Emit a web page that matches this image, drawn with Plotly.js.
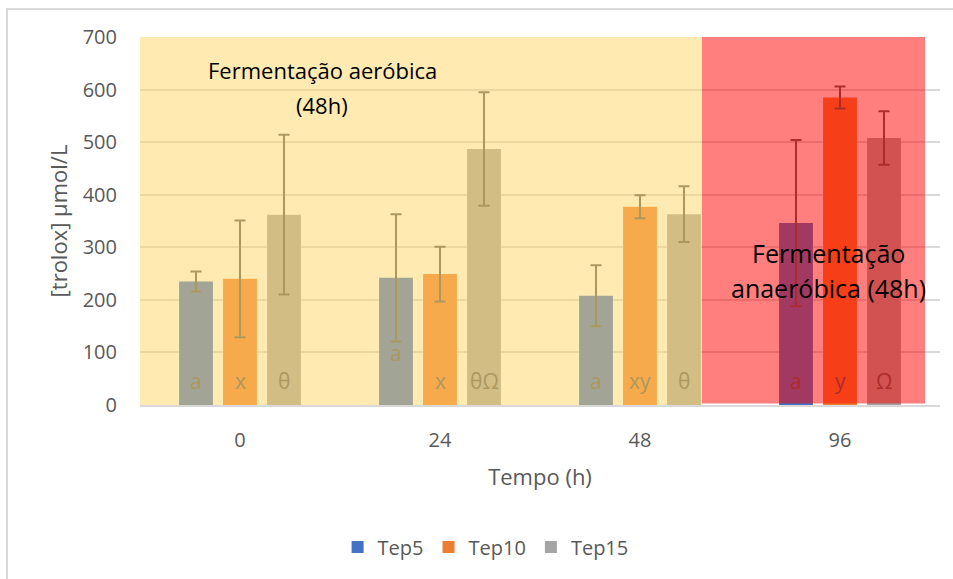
<!DOCTYPE html>
<html>
<head>
<meta charset="utf-8">
<script src="https://cdn.plot.ly/plotly-3.0.1.min.js"></script>
<style>
  html, body { margin: 0; padding: 0; background: #fff; }
  #wrap { position: relative; width: 953px; height: 579px; }
  #chart { width: 953px; height: 579px; }
  #frame { position: absolute; left: 6px; top: 8px; width: 946px; height: 580px;
           border-left: 2px solid #d9d9d9; border-top: 2px solid #d9d9d9; pointer-events: none; }
</style>
</head>
<body>
<div id="wrap">
  <div id="chart"></div>
  <div id="frame"></div>
</div>
<script>
// ---- data ----
const categories = ['0', '24', '48', '96'];
const seriesNames = ['Tep5', 'Tep10', 'Tep15'];
const tep5 = [235, 242, 208, 346];
const tep5Err = [19, 121, 58, 158];
const tep10 = [240, 249, 377, 585];
const tep10Err = [111, 52, 22, 21];
const tep15 = [362, 487, 363, 508];
const tep15Err = [152, 108, 53, 51];
const tep5Labels = ['a', 'a', 'a', 'a'];
const tep10Labels = ['x', 'x', 'xy', 'y'];
const tep15Labels = ['θ', 'θΩ', 'θ', 'Ω'];
const colors = ['#4472C4', '#ED7D31', '#A5A5A5'];

const values = [tep5, tep10, tep15];
const errors = [tep5Err, tep10Err, tep15Err];
const labels = [tep5Labels, tep10Labels, tep15Labels];

const FONT = 'Open Sans, Liberation Sans, sans-serif';
const bargap = 0.34, bargroupgap = 0.23;

const traces = seriesNames.map((name, i) => ({
  type: 'bar',
  name: name,
  x: categories,
  y: values[i],
  marker: { color: colors[i] },
  error_y: { type: 'data', array: errors[i], visible: true, color: '#595959', thickness: 2, width: 5.5 },
  hoverinfo: 'skip'
}));

// letter labels (drawn above the translucent overlays, so use the blended colours)
const annotations = [];
const slot = (1 - bargap) / 3;
seriesNames.forEach((name, i) => {
  labels[i].forEach((txt, c) => {
    const inRed = c === 3;
    const raised = (c === 1 && i === 0);
    annotations.push({
      xref: 'x', yref: 'y', x: c + (i - 1) * slot, y: 0,
      text: txt, showarrow: false,
      yanchor: 'middle', yshift: raised ? 52 : 24,
      font: { family: FONT, size: 21, color: inRed ? '#AC2C2C' : '#AC985F' }
    });
  });
});

const noteFont1 = { family: FONT, size: 22, color: '#000000' };
const noteFont2 = { family: FONT, size: 25, color: '#000000' };
annotations.push(
  { xref: 'paper', yref: 'paper', x: (322 - 140) / 800, y: (405 - 70) / 368, text: 'Fermentação aeróbica', showarrow: false, xanchor: 'center', yanchor: 'middle', font: noteFont1 },
  { xref: 'paper', yref: 'paper', x: (322 - 140) / 800, y: (405 - 105) / 368, text: '(48h)', showarrow: false, xanchor: 'center', yanchor: 'middle', font: noteFont1 },
  { xref: 'paper', yref: 'paper', x: (828 - 140) / 800, y: (405 - 253) / 368, text: 'Fermentação', showarrow: false, xanchor: 'center', yanchor: 'middle', font: noteFont2 },
  { xref: 'paper', yref: 'paper', x: (828 - 140) / 800, y: (405 - 288) / 368, text: 'anaeróbica (48h)', showarrow: false, xanchor: 'center', yanchor: 'middle', font: noteFont2 }
);

const layout = {
  width: 953, height: 579,
  margin: { l: 140, r: 13, t: 37, b: 174 },
  paper_bgcolor: '#ffffff', plot_bgcolor: '#ffffff',
  font: { family: FONT, color: '#595959', size: 20 },
  barmode: 'group', bargap: bargap, bargroupgap: bargroupgap,
  showlegend: true,
  legend: { orientation: 'h', x: 0.432, y: (405 - 547) / 368, xanchor: 'center', yanchor: 'middle',
            font: { family: FONT, size: 20, color: '#595959' }, itemwidth: 30 },
  xaxis: {
    type: 'category', range: [-0.5, 3.5], showgrid: false, zeroline: false,
    showline: true, linecolor: '#d9d9d9', linewidth: 2,
    ticks: '', ticklabelstandoff: 16, tickfont: { family: FONT, size: 20, color: '#595959' },
    title: { text: 'Tempo (h)', standoff: 18, font: { family: FONT, size: 22, color: '#595959' } },
    fixedrange: true
  },
  yaxis: {
    range: [0, 700], dtick: 100, tick0: 0, showgrid: true, gridcolor: '#d9d9d9', gridwidth: 2,
    zeroline: false, showline: false, ticks: '', ticklabelstandoff: 22,
    tickfont: { family: FONT, size: 20, color: '#595959' },
    title: { text: '[trolox] µmol/L', standoff: 8, font: { family: FONT, size: 22, color: '#595959' } },
    fixedrange: true
  },
  shapes: [
    { type: 'rect', layer: 'above', xref: 'x', yref: 'y', x0: -0.52, x1: 2.31, y0: 0, y1: 700,
      fillcolor: 'rgba(255,215,101,0.5)', line: { width: 0 } },
    { type: 'rect', layer: 'above', xref: 'x', yref: 'y', x0: 2.31, x1: 3.425, y0: 3, y1: 700,
      fillcolor: 'rgba(255,0,0,0.5)', line: { width: 0 } }
  ],
  annotations: annotations
};

Plotly.newPlot('chart', traces, layout, { displayModeBar: false, staticPlot: true });
</script>
</body>
</html>
